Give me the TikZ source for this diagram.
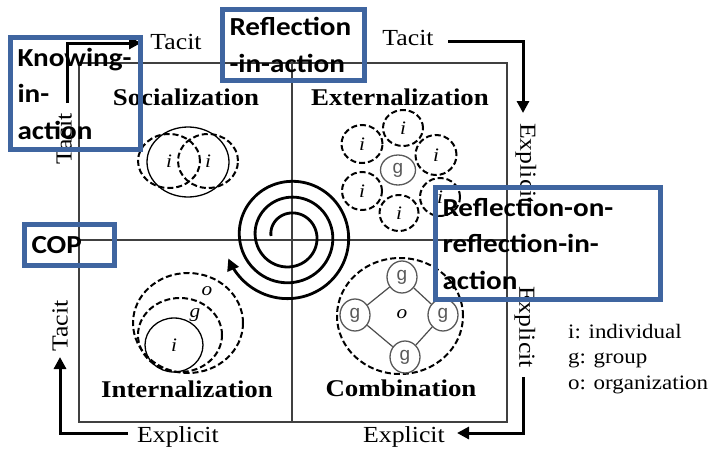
\documentclass[tikz,border=0pt]{standalone}
\usepackage{fontspec}
\setmainfont{Liberation Serif}[FakeStretch=1.12]
\newfontfamily\boxfont{Carlito}[FakeStretch=1.12]
\newfontfamily\gfont{Liberation Sans}
\usetikzlibrary{arrows.meta,shapes.geometric}
\definecolor{boxblue}{HTML}{3F65A0}
\begin{document}
\begin{tikzpicture}[x=1pt,y=-1pt,
  frame/.style={draw=black!75, line width=1.3pt},
  lbl/.style={font=\fontsize{23}{27}\selectfont, inner sep=0pt},
  quad/.style={font=\fontsize{24}{28}\selectfont\bfseries, inner sep=0pt, anchor=base},
  legend/.style={font=\fontsize{20.5}{24}\selectfont, anchor=base west, inner sep=0pt},
  letter/.style={font=\fontsize{19}{22}\selectfont\itshape, inner sep=0pt},
  dcirc/.style={ellipse, draw, line width=2pt, dash pattern=on 6pt off 3pt, inner sep=0pt, font=\fontsize{19}{22}\selectfont\itshape},
  scirc/.style={ellipse, draw, line width=1.3pt, inner sep=0pt, font=\fontsize{19}{22}\selectfont\itshape},
  gcirc/.style={ellipse, draw=black!65, line width=1.3pt, inner sep=0pt, text=black!65, font=\gfont\fontsize{19}{22}\selectfont},
  gline/.style={draw=black!70, line width=1.2pt},
  bigarrow/.style={line width=3pt, -{Triangle[length=12pt, width=12pt]}},
  bluebox/.style={draw=boxblue, line width=5pt, font=\boxfont\bfseries\fontsize{26}{36.5}\selectfont, align=left, inner xsep=7pt, inner ysep=0pt}
]
\useasboundingbox (0,0) rectangle (708,455);
% frame
\draw[frame] (79,63) rectangle (507,422);
\draw[frame] (292,63) -- (292,422);
\draw[frame] (79,240) -- (507,240);

% quadrant titles
\node[quad] (soc) at (186,105) {Socialization};
\node[quad] (ext) at (400,105) {Externalization};
\node[quad] (int) at (187,397) {Internalization};
\node[quad] (com) at (401,396) {Combination};

% socialization
\node[scirc, minimum width=82pt, minimum height=70pt] (s0) at (188,162) {};
\node[dcirc, minimum width=62pt, minimum height=54pt] (s1) at (169,161) {i};
\node[dcirc, minimum width=60pt, minimum height=54pt] (s2) at (208,161) {i};

% externalization
\node[gcirc, minimum width=35pt, minimum height=30pt] (eg) at (398,170) {g};
\node[dcirc, minimum width=41pt, minimum height=38pt] (e1) at (362,144) {i};
\node[dcirc, minimum width=40pt, minimum height=36pt] (e2) at (403,128) {i};
\node[dcirc, minimum width=41pt, minimum height=40pt] (e3) at (436,155) {i};
\node[dcirc, minimum width=40pt, minimum height=38pt] (e4) at (362,191) {i};
\node[dcirc, minimum width=39pt, minimum height=36pt] (e5) at (399,213) {i};
\node[dcirc, minimum width=40pt, minimum height=38pt] (e6) at (440,197) {i};

% internalization
\node[dcirc, minimum width=110pt, minimum height=100pt] (io) at (188,323) {};
\node[dcirc, minimum width=84pt, minimum height=74pt] (ig) at (180,335) {};
\node[scirc, minimum width=58pt, minimum height=54pt] (ii) at (174,345) {i};
\node[letter] (igl) at (195,315) {g};
\node[letter] (iol) at (207,291) {o};

% combination
\node[dcirc, minimum width=126pt, minimum height=116pt] (co) at (400,316) {};
\node[letter] (col) at (402,314) {o};
\node[gcirc, minimum width=30pt, minimum height=32pt] (gt) at (402,277) {g};
\node[gcirc, minimum width=30pt, minimum height=32pt] (gl) at (355,315) {g};
\node[gcirc, minimum width=30pt, minimum height=32pt] (gr) at (443,315) {g};
\node[gcirc, minimum width=30pt, minimum height=32pt] (gb) at (405,357) {g};
\draw[gline] (gt) -- (gl);
\draw[gline] (gl) -- (gb);
\draw[gline] (gb) -- (gr);
\draw[gline] (gr) -- (gt);

% spiral
\draw[line width=2.8pt, -{Triangle[length=12pt, width=12pt]}]
  plot[domain=0:1060, samples=220, smooth] ({290-(19+0.044*\x)*cos(\x)},{236-(19+0.044*\x)*sin(\x)});

% axis labels
\node[lbl] (tl) at (176,42) {Tacit};
\node[lbl] (tr) at (408,38) {Tacit};
\node[lbl] (bl) at (178,437) {Explicit};
\node[lbl] (br) at (404,437) {Explicit};
\node[lbl, rotate=90] (lt1) at (64,139) {Tacit};
\node[lbl, rotate=90] (lt2) at (60,326) {Tacit};
\node[lbl, rotate=-90] (re1) at (526,164) {Explicit};
\node[lbl, rotate=-90] (re2) at (525,327) {Explicit};

% arrows
\coordinate (a1) at (67,103); \coordinate (a2) at (67,43); \coordinate (a3) at (141,43);
\draw[bigarrow] (a1) -- (a2) -- (a3);
\coordinate (b1) at (448,41); \coordinate (b2) at (523,41); \coordinate (b3) at (523,113);
\draw[bigarrow] (b1) -- (b2) -- (b3);
\coordinate (c1) at (523,377); \coordinate (c2) at (523,433); \coordinate (c3) at (457,433);
\draw[bigarrow] (c1) -- (c2) -- (c3);
\coordinate (d1) at (128,433); \coordinate (d2) at (60,433); \coordinate (d3) at (60,357);
\draw[bigarrow] (d1) -- (d2) -- (d3);

% legend
\node[legend] (l1) at (568,338) {i: individual};
\node[legend] (l2) at (568,363) {g: group};
\node[legend] (l3) at (568,389) {o: organization};

% blue boxes
\node[bluebox, text width=116pt, minimum height=112pt] (kia) at (75.5,93.5) {Knowing-\\in-\\action};
\node[bluebox, text width=128pt, minimum height=71pt] (ria) at (293.5,45) {Reflection\\-in-action};
\node[bluebox, text width=76pt, minimum height=41pt] (cop) at (69.5,245) {COP};
\node[bluebox, text width=211pt, minimum height=112pt] (ror) at (548,243.5) {Reflection-on-\\reflection-in-\\action};
\end{tikzpicture}
\end{document}
